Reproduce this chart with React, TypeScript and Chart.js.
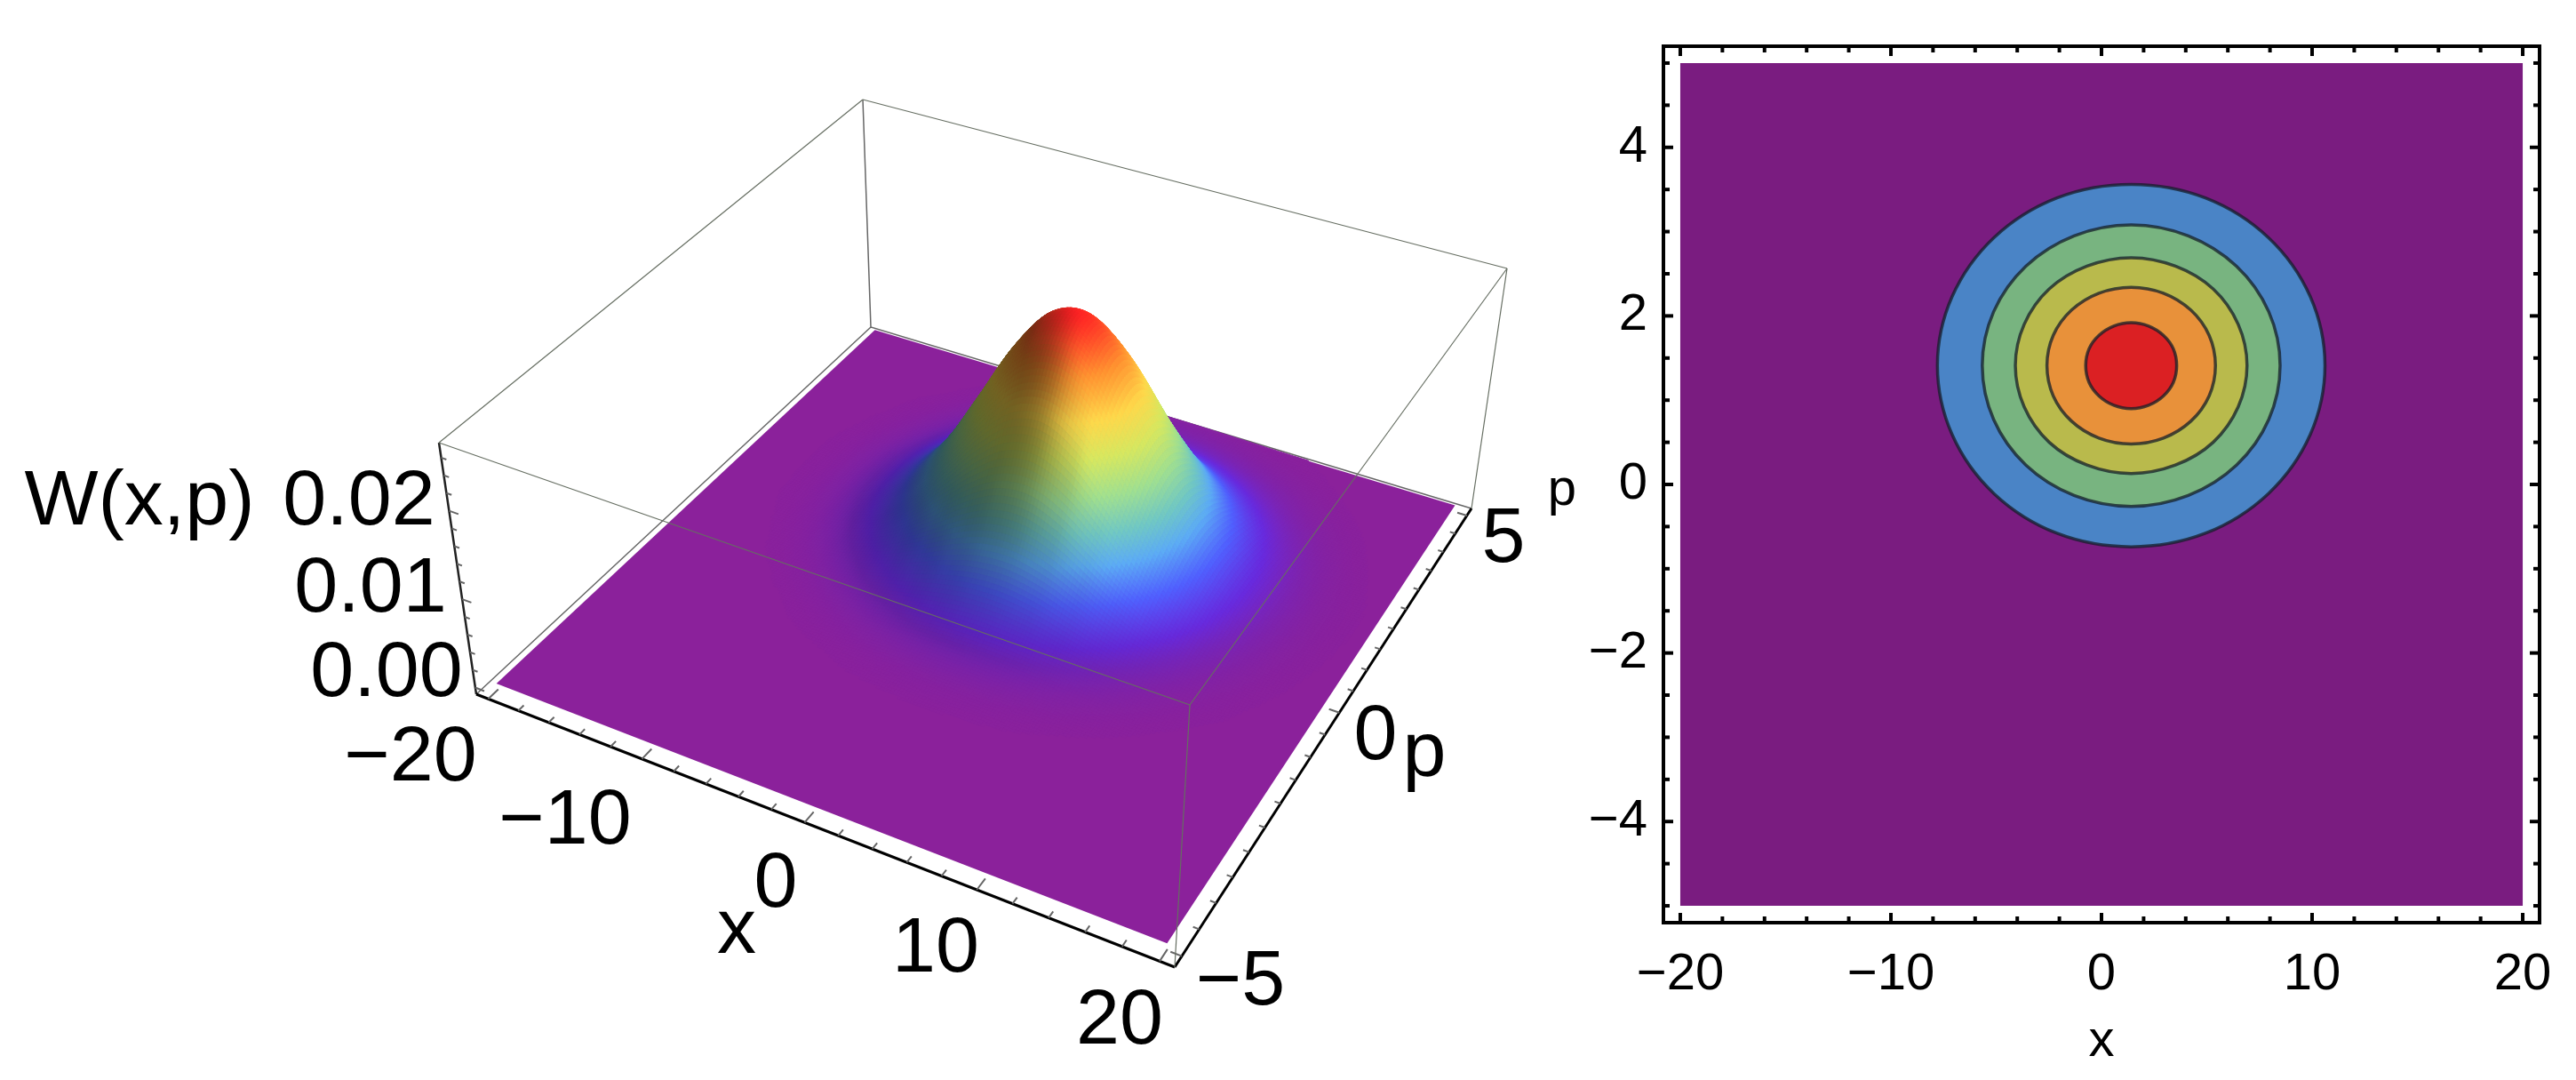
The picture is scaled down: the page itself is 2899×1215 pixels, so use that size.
import React, { useEffect, useRef } from 'react';
import { Chart, registerables } from 'chart.js';

Chart.register(...registerables);

const PAGE_W = 2899;
const PAGE_H = 1215;
const FONT = '"Liberation Sans", Arial, sans-serif';

// ---- values ----

const xGrid = [-20, -18, -16, -14, -12, -10, -8, -6, -4, -2, 0, 2, 4, 6, 8, 10, 12, 14, 16, 18, 20];
const pGrid = [-5, -4.5, -4, -3.5, -3, -2.5, -2, -1.5, -1, -0.5, 0, 0.5, 1, 1.5, 2, 2.5, 3, 3.5, 4, 4.5, 5];

// W(x,p) in units of 1e-4, one row per pGrid entry, one column per xGrid entry
const wRows = [
	[0, 0, 0, 0, 0, 0, 0, 0, 0, 0, 0, 0, 0, 0, 0, 0, 0, 0, 0, 0, 0],
	[0, 0, 0, 0, 0, 0, 0, 0, 0, 0, 0, 0, 0, 0, 0, 0, 0, 0, 0, 0, 0],
	[0, 0, 0, 0, 0, 0, 0, 0, 0, 0, 0, 0, 0, 0, 0, 0, 0, 0, 0, 0, 0],
	[0, 0, 0, 0, 0, 0, 0, 0, 0, 0, 0, 0, 0, 0, 0, 0, 0, 0, 0, 0, 0],
	[0, 0, 0, 0, 0, 0, 0, 0.1, 0.1, 0.2, 0.2, 0.2, 0.2, 0.1, 0.1, 0, 0, 0, 0, 0, 0],
	[0, 0, 0, 0, 0, 0.1, 0.2, 0.3, 0.6, 0.8, 1, 1, 0.9, 0.7, 0.4, 0.2, 0.1, 0, 0, 0, 0],
	[0, 0, 0, 0, 0.1, 0.3, 0.7, 1.3, 2.1, 3, 3.7, 3.8, 3.4, 2.5, 1.6, 0.9, 0.4, 0.2, 0.1, 0, 0],
	[0, 0, 0, 0.1, 0.3, 0.9, 2.1, 4.1, 6.8, 9.7, 11.8, 12.2, 10.7, 8, 5.1, 2.8, 1.3, 0.5, 0.2, 0, 0],
	[0, 0, 0.1, 0.3, 0.9, 2.4, 5.5, 10.8, 18, 25.6, 31.1, 32.1, 28.3, 21.2, 13.6, 7.4, 3.4, 1.4, 0.5, 0.1, 0],
	[0, 0, 0.2, 0.6, 2, 5.3, 12.2, 23.9, 39.8, 56.7, 68.7, 71, 62.5, 46.9, 30, 16.4, 7.6, 3, 1, 0.3, 0.1],
	[0, 0.1, 0.3, 1.1, 3.6, 9.7, 22.3, 43.9, 73.2, 104, 126.3, 130.5, 114.8, 86.2, 55.2, 30.1, 13.9, 5.5, 1.8, 0.5, 0.1],
	[0, 0.1, 0.5, 1.7, 5.5, 14.9, 34.1, 67.1, 112, 159.2, 193.2, 199.6, 175.7, 131.8, 84.4, 46, 21.3, 8.4, 2.8, 0.8, 0.2],
	[0, 0.1, 0.6, 2.2, 7, 18.9, 43.4, 85.4, 142.4, 202.5, 245.7, 253.9, 223.4, 167.7, 107.3, 58.6, 27.1, 10.7, 3.6, 1, 0.3],
	[0, 0.1, 0.6, 2.3, 7.4, 20, 46.1, 90.5, 151, 214.8, 260.6, 269.3, 237, 177.9, 113.9, 62.1, 28.7, 11.4, 3.8, 1.1, 0.3],
	[0, 0.1, 0.6, 2.1, 6.6, 17.7, 40.7, 79.9, 133.3, 189.6, 230, 237.7, 209.2, 157, 100.5, 54.8, 25.3, 10, 3.3, 1, 0.3],
	[0, 0.1, 0.4, 1.5, 4.8, 13, 29.9, 58.7, 98, 139.4, 169.1, 174.8, 153.8, 115.4, 73.9, 40.3, 18.6, 7.4, 2.5, 0.7, 0.2],
	[0, 0.1, 0.3, 0.9, 3, 8, 18.3, 36, 60.1, 85.5, 103.8, 107.2, 94.4, 70.8, 45.3, 24.7, 11.4, 4.5, 1.5, 0.4, 0.1],
	[0, 0, 0.1, 0.5, 1.5, 4.1, 9.3, 18.3, 30.6, 43.5, 52.8, 54.6, 48, 36, 23.1, 12.6, 5.8, 2.3, 0.8, 0.2, 0.1],
	[0, 0, 0.1, 0.2, 0.6, 1.7, 4, 7.8, 13, 18.5, 22.5, 23.2, 20.4, 15.3, 9.8, 5.4, 2.5, 1, 0.3, 0.1, 0],
	[0, 0, 0, 0.1, 0.2, 0.6, 1.4, 2.7, 4.5, 6.5, 7.8, 8.1, 7.1, 5.4, 3.4, 1.9, 0.9, 0.3, 0.1, 0, 0],
	[0, 0, 0, 0, 0.1, 0.2, 0.4, 0.8, 1.3, 1.9, 2.3, 2.4, 2.1, 1.6, 1, 0.6, 0.3, 0.1, 0, 0, 0],
];
const wPeak = 272;

const boxX = [-20.8, 20.8];
const boxP = [-5.2, 5.2];
const boxW = [-0.00075, 0.0277];

const ticks3dX = [-20, -18, -16, -14, -12, -10, -8, -6, -4, -2, 0, 2, 4, 6, 8, 10, 12, 14, 16, 18, 20];
const ticks3dP = [-5, -4.5, -4, -3.5, -3, -2.5, -2, -1.5, -1, -0.5, 0, 0.5, 1, 1.5, 2, 2.5, 3, 3.5, 4, 4.5, 5];
const ticks3dW = [0, 0.002, 0.004, 0.006, 0.008, 0.01, 0.012, 0.014, 0.016, 0.018, 0.02, 0.022, 0.024, 0.026];

// contour plot: one closed curve per level, outermost first
const contourX = [
	[10.61, 9.91, 7.92, 4.93, 1.41, -2.11, -5.1, -7.09, -7.79, -7.09, -5.1, -2.11, 1.41, 4.93, 7.92, 9.91],
	[8.48, 7.94, 6.41, 4.12, 1.41, -1.3, -3.59, -5.12, -5.66, -5.12, -3.59, -1.3, 1.41, 4.12, 6.41, 7.94],
	[6.91, 6.49, 5.3, 3.51, 1.41, -0.69, -2.48, -3.67, -4.09, -3.67, -2.48, -0.69, 1.41, 3.51, 5.3, 6.49],
	[5.41, 5.11, 4.24, 2.94, 1.41, -0.12, -1.42, -2.29, -2.59, -2.29, -1.42, -0.12, 1.41, 2.94, 4.24, 5.11],
	[3.57, 3.41, 2.94, 2.24, 1.41, 0.58, -0.12, -0.59, -0.75, -0.59, -0.12, 0.58, 1.41, 2.24, 2.94, 3.41],
];
const contourP = [
	[1.41, 2.23, 2.93, 3.4, 3.56, 3.4, 2.93, 2.23, 1.41, 0.59, -0.11, -0.58, -0.74, -0.58, -0.11, 0.59],
	[1.41, 2.05, 2.59, 2.95, 3.08, 2.95, 2.59, 2.05, 1.41, 0.77, 0.23, -0.13, -0.26, -0.13, 0.23, 0.77],
	[1.41, 1.9, 2.32, 2.59, 2.69, 2.59, 2.32, 1.9, 1.41, 0.92, 0.5, 0.23, 0.13, 0.23, 0.5, 0.92],
	[1.41, 1.77, 2.07, 2.27, 2.34, 2.27, 2.07, 1.77, 1.41, 1.05, 0.75, 0.55, 0.48, 0.55, 0.75, 1.05],
	[1.41, 1.61, 1.77, 1.88, 1.92, 1.88, 1.77, 1.61, 1.41, 1.21, 1.05, 0.94, 0.9, 0.94, 1.05, 1.21],
];
const contourColors = ['#4a84c6', '#78b480', '#b9ba4c', '#e8913a', '#db2023'];
const planeX = [-20, 20, 20, -20, -20];
const planeP = [-5, -5, 5, 5, -5];

const xTickLabels = [-20, -10, 0, 10, 20];
const pTickLabels = [-4, -2, 0, 2, 4];
const xMinorTicks = [-18, -16, -14, -12, -8, -6, -4, -2, 2, 4, 6, 8, 12, 14, 16, 18];
const pMinorTicks = [-5, -4.5, -3.5, -3, -2.5, -1.5, -1, -0.5, 0.5, 1, 1.5, 2.5, 3, 3.5, 4.5, 5];

// ---- 3D view ----

type Pt = { x: number; y: number };

// unit square to quad, so the floor and lid of the box keep their perspective
const squareToQuad = (q: number[][]) => {
	const [[x0, y0], [x1, y1], [x2, y2], [x3, y3]] = q;
	const dx1 = x1 - x2;
	const dx2 = x3 - x2;
	const sx = x0 - x1 + x2 - x3;
	const dy1 = y1 - y2;
	const dy2 = y3 - y2;
	const sy = y0 - y1 + y2 - y3;
	const den = dx1 * dy2 - dx2 * dy1;
	const g = (sx * dy2 - dx2 * sy) / den;
	const h = (dx1 * sy - sx * dy1) / den;
	const a = x1 - x0 + g * x1;
	const b = x3 - x0 + h * x3;
	const d = y1 - y0 + g * y1;
	const e = y3 - y0 + h * y3;
	return (u: number, v: number): Pt => {
		const w = g * u + h * v + 1;
		return { x: (a * u + b * v + x0) / w, y: (d * u + e * v + y0) / w };
	};
};

const floorView = squareToQuad([[536, 781], [1322, 1088], [1656, 572], [980, 368]]);
const lidView = squareToQuad([[494, 498], [1339, 793], [1696, 302], [971, 112]]);

const project = (x: number, p: number, w: number): Pt => {
	const u = (x - boxX[0]) / (boxX[1] - boxX[0]);
	const v = (p - boxP[0]) / (boxP[1] - boxP[0]);
	const c = (w - boxW[0]) / (boxW[1] - boxW[0]);
	const f = floorView(u, v);
	const l = lidView(u, v);
	return { x: f.x + (l.x - f.x) * c, y: f.y + (l.y - f.y) * c };
};

const surfaceStops: [number, number[]][] = [
	[0, [139, 33, 155]],
	[0.07, [104, 42, 222]],
	[0.16, [80, 96, 255]],
	[0.26, [92, 172, 245]],
	[0.35, [112, 200, 196]],
	[0.46, [160, 224, 144]],
	[0.58, [214, 232, 96]],
	[0.7, [255, 216, 74]],
	[0.84, [255, 146, 48]],
	[1, [255, 32, 36]],
];

const surfaceColor = (t: number, shade: number) => {
	let i = 0;
	while (i < surfaceStops.length - 2 && t > surfaceStops[i + 1][0]) i++;
	const [t0, c0] = surfaceStops[i];
	const [t1, c1] = surfaceStops[i + 1];
	const f = Math.min(1, Math.max(0, (t - t0) / (t1 - t0)));
	const ch = (k: number) => Math.round((c0[k] + (c1[k] - c0[k]) * f) * shade);
	return `rgb(${ch(0)},${ch(1)},${ch(2)})`;
};

const catmull = (a: number, b: number, c: number, d: number, t: number) =>
	0.5 * (2 * b + (c - a) * t + (2 * a - 5 * b + 4 * c - d) * t * t + (3 * b - a - 3 * c + d) * t * t * t);

// smooth the drawn mesh between the table's nodes, the table itself stays as read
const SUB = 10;
const refine = (values: number[]) => {
	const out: number[] = [];
	const last = values.length - 1;
	for (let i = 0; i < last; i++) {
		const a = values[Math.max(0, i - 1)];
		const d = values[Math.min(last, i + 2)];
		for (let s = 0; s < SUB; s++) out.push(catmull(a, values[i], values[i + 1], d, s / SUB));
	}
	out.push(values[last]);
	return out;
};

const surfacePlugin = {
	id: 'surface',
	afterDatasetDraw(chart: any, args: any) {
		if (args.index !== 0) return;
		const { ctx, scales } = chart;
		const toPx = (pt: Pt) => [scales.x.getPixelForValue(pt.x), scales.y.getPixelForValue(pt.y)];

		const byRow = wRows.map(refine);
		const cols = byRow[0].map((_, i) => refine(byRow.map((r) => r[i])).map((v) => Math.max(0, v)));
		const nx = cols.length;
		const np = cols[0].length;
		const fineX = refine(xGrid);
		const fineP = refine(pGrid);

		ctx.save();
		ctx.fillStyle = surfaceColor(0, 1);
		ctx.beginPath();
		[[xGrid[0], pGrid[0]], [xGrid[20], pGrid[0]], [xGrid[20], pGrid[20]], [xGrid[0], pGrid[20]]].forEach(([x, p], i) => {
			const [a, b] = toPx(project(x, p, 0));
			if (i === 0) ctx.moveTo(a, b);
			else ctx.lineTo(a, b);
		});
		ctx.closePath();
		ctx.fill();

		ctx.lineWidth = 1;
		ctx.lineJoin = 'round';
		const at = (i: number, j: number) => toPx(project(fineX[i], fineP[j], cols[i][j] * 1e-4));
		for (let j = np - 2; j >= 0; j--) {
			for (let i = 0; i < nx - 1; i++) {
				const h = (cols[i][j] + cols[i + 1][j] + cols[i][j + 1] + cols[i + 1][j + 1]) / 4;
				const t = h / wPeak;
				if (t < 0.002) continue;
				// slope seen from the left of the picture darkens the face, the flat floor stays unshaded
				const dx = ((cols[i + 1][j] + cols[i + 1][j + 1] - cols[i][j] - cols[i][j + 1]) / 2 / wPeak) * (5 / (fineX[i + 1] - fineX[i]));
				const dp = ((cols[i][j + 1] + cols[i + 1][j + 1] - cols[i][j] - cols[i + 1][j]) / 2 / wPeak) * (1.17 / (fineP[j + 1] - fineP[j]));
				const k = Math.min(1, Math.max(0, (dx + 0.6 * dp + 0.15) / 0.7));
				const shade = 1 - 0.55 * k * k * (3 - 2 * k) * Math.min(1, t / 0.04);
				const col = surfaceColor(t, shade);
				const q = [at(i, j), at(i + 1, j), at(i + 1, j + 1), at(i, j + 1)];
				ctx.fillStyle = col;
				ctx.strokeStyle = col;
				ctx.beginPath();
				ctx.moveTo(q[0][0], q[0][1]);
				ctx.lineTo(q[1][0], q[1][1]);
				ctx.lineTo(q[2][0], q[2][1]);
				ctx.lineTo(q[3][0], q[3][1]);
				ctx.closePath();
				ctx.fill();
				ctx.stroke();
			}
		}
		ctx.restore();
	},
};

const labels3d = [
	{ text: 'W(x,p)', x: 157, y: 590 },
	{ text: '0.02', x: 404, y: 590 },
	{ text: '0.01', x: 417, y: 688 },
	{ text: '0.00', x: 435, y: 783 },
	{ text: '\u221220', x: 462, y: 878 },
	{ text: '\u221210', x: 636, y: 949 },
	{ text: '0', x: 873, y: 1020 },
	{ text: 'x', x: 829, y: 1072 },
	{ text: '10', x: 1053, y: 1093 },
	{ text: '20', x: 1260, y: 1174 },
	{ text: '\u22125', x: 1396, y: 1130 },
	{ text: '0', x: 1548, y: 854 },
	{ text: 'p', x: 1603, y: 873 },
	{ text: '5', x: 1692, y: 632 },
];

const labels3dPlugin = {
	id: 'labels3d',
	afterDraw(chart: any) {
		const { ctx } = chart;
		ctx.save();
		ctx.fillStyle = '#000';
		ctx.font = `88px ${FONT}`;
		ctx.textAlign = 'center';
		ctx.textBaseline = 'alphabetic';
		labels3d.forEach((l) => ctx.fillText(l.text, l.x, l.y));
		ctx.restore();
	},
};

const edge = (a: number[], b: number[], color: string, width: number, order = 1) => ({
	data: [project(a[0], a[1], a[2]), project(b[0], b[1], b[2])],
	borderColor: color,
	borderWidth: width,
	showLine: true,
	pointRadius: 0,
	order,
});

const tickMarks = (ticks: number[], isMajor: (v: number) => boolean, from: (v: number) => number[], dir: number[]) => {
	const pts: Pt[] = [];
	ticks.forEach((v) => {
		const s = from(v);
		const k = isMajor(v) ? 1 : 0.55;
		pts.push(project(s[0], s[1], s[2]));
		pts.push(project(s[0] + dir[0] * k, s[1] + dir[1] * k, s[2] + dir[2] * k));
		pts.push({ x: NaN, y: NaN });
	});
	return { data: pts, borderColor: '#666', borderWidth: 2, showLine: true, pointRadius: 0, order: 1 };
};

const surfaceConfig = () => {
	const [x0, x1] = boxX;
	const [p0, p1] = boxP;
	const [w0, w1] = boxW;
	const thin = '#666e62';
	const datasets = [
		{
			data: [project(x0, p0, w0), project(x0, p1, w0), project(x0, p1, w1), project(x0, p1, w0), project(x1, p1, w0)],
			borderColor: '#666',
			borderWidth: 1.5,
			showLine: true,
			pointRadius: 0,
			order: 2,
		},
		edge([x0, p0, w1], [x1, p0, w1], thin, 1.2),
		edge([x1, p0, w1], [x1, p1, w1], thin, 1.2),
		edge([x1, p1, w1], [x0, p1, w1], thin, 1.2),
		edge([x0, p1, w1], [x0, p0, w1], thin, 1.2),
		edge([x1, p0, w0], [x1, p0, w1], thin, 1.2),
		edge([x1, p1, w0], [x1, p1, w1], thin, 1.2),
		tickMarks(ticks3dX, (v) => v % 10 === 0, (v) => [v, p0, w0], [0, 0.22, 0]),
		tickMarks(ticks3dP, (v) => Number.isInteger(v / 5), (v) => [x1, v, w0], [-0.6, 0, 0]),
		tickMarks(ticks3dW, (v) => Math.abs(v / 0.01 - Math.round(v / 0.01)) < 1e-6, (v) => [x0, p0, v], [0.6, 0, 0]),
		edge([x0, p0, w0], [x1, p0, w0], '#000', 3),
		edge([x1, p0, w0], [x1, p1, w0], '#000', 3),
		edge([x0, p0, w0], [x0, p0, w1], '#222', 2.5),
	];
	return {
		type: 'scatter',
		data: { datasets },
		options: {
			animation: false,
			responsive: false,
			devicePixelRatio: 1,
			events: [],
			layout: { padding: 0 },
			plugins: { legend: { display: false }, tooltip: { enabled: false } },
			scales: {
				x: { type: 'linear', min: 0, max: PANEL_A_W, display: false },
				y: { type: 'linear', min: 0, max: PAGE_H, reverse: true, display: false },
			},
		},
		plugins: [surfacePlugin, labels3dPlugin],
	} as any;
};

// ---- contour plot ----

const PANEL_A_W = 1720;
const PANEL_B_W = PAGE_W - PANEL_A_W;

// close the contour lines so the spline has no corner where a curve ends
const closeCurvesPlugin = {
	id: 'closeCurves',
	afterDatasetUpdate(chart: any, args: any) {
		if (!chart.data.datasets[args.index].closed) return;
		const line = args.meta.dataset;
		line._loop = true;
		line._fullLoop = true;
		line.points = line._points;
	},
};

const framePlugin = {
	id: 'frame',
	afterDraw(chart: any) {
		const { ctx, chartArea: a, scales } = chart;
		ctx.save();
		ctx.strokeStyle = '#000';
		ctx.fillStyle = '#000';
		ctx.lineWidth = 4;
		ctx.strokeRect(a.left, a.top, a.right - a.left, a.bottom - a.top);
		ctx.lineWidth = 4;
		const mark = (x0: number, y0: number, x1: number, y1: number) => {
			ctx.beginPath();
			ctx.moveTo(x0, y0);
			ctx.lineTo(x1, y1);
			ctx.stroke();
		};
		const xMarks = (vals: number[], len: number) =>
			vals.forEach((v) => {
				const px = scales.x.getPixelForValue(v);
				mark(px, a.top, px, a.top + len);
				mark(px, a.bottom, px, a.bottom - len);
			});
		const pMarks = (vals: number[], len: number) =>
			vals.forEach((v) => {
				const py = scales.y.getPixelForValue(v);
				mark(a.left, py, a.left + len, py);
				mark(a.right, py, a.right - len, py);
			});
		xMarks(xMinorTicks, 7);
		xMarks(xTickLabels, 11);
		pMarks(pMinorTicks, 7);
		pMarks(pTickLabels, 11);
		ctx.font = `58px ${FONT}`;
		ctx.textAlign = 'center';
		ctx.textBaseline = 'alphabetic';
		ctx.fillText('p', 1758 - (PAGE_W - PANEL_B_W), 568);
		ctx.restore();
	},
};

const contourConfig = () => {
	const curve = (xs: number[], ps: number[]) => xs.map((x, i) => ({ x, y: ps[i] }));
	const datasets: any[] = [
		{
			data: curve(planeX, planeP),
			backgroundColor: '#7a1c80',
			borderWidth: 0,
			fill: 'shape',
			showLine: true,
			pointRadius: 0,
			order: 10,
		},
		...contourX.map((xs, i) => ({
			data: curve(xs, contourP[i]),
			closed: true,
			backgroundColor: contourColors[i],
			borderColor: 'rgba(20,30,40,0.75)',
			borderWidth: 3.5,
			fill: 'shape',
			showLine: true,
			tension: 0.34,
			pointRadius: 0,
			order: 9 - i,
		})),
	];
	const tickFont = { family: FONT, size: 58 };
	const fmt = (v: any) => String(v).replace('-', '\u2212');
	return {
		type: 'scatter',
		data: { datasets },
		options: {
			animation: false,
			responsive: false,
			devicePixelRatio: 1,
			events: [],
			layout: { padding: { top: 52, right: 41 } },
			plugins: { legend: { display: false }, tooltip: { enabled: false } },
			scales: {
				x: {
					type: 'linear',
					min: -20.8,
					max: 20.8,
					grid: { display: false },
					border: { display: false },
					afterBuildTicks: (s: any) => {
						s.ticks = xTickLabels.map((value) => ({ value }));
					},
					afterFit: (s: any) => {
						s.height = PAGE_H - 1038;
						s.paddingLeft = 0;
						s.paddingRight = 0;
					},
					ticks: { font: tickFont, color: '#000', padding: 16, maxRotation: 0, autoSkip: false, callback: fmt },
					title: { display: true, text: 'x', font: tickFont, color: '#000', padding: { top: 0, bottom: 8 } },
				},
				y: {
					type: 'linear',
					min: -5.2,
					max: 5.2,
					grid: { display: false },
					border: { display: false },
					afterBuildTicks: (s: any) => {
						s.ticks = pTickLabels.map((value) => ({ value }));
					},
					afterFit: (s: any) => {
						s.width = 1872 - (PAGE_W - PANEL_B_W);
						s.paddingTop = 0;
						s.paddingBottom = 0;
					},
					ticks: { font: tickFont, color: '#000', padding: 10, autoSkip: false, callback: fmt },
				},
			},
		},
		plugins: [closeCurvesPlugin, framePlugin],
	} as any;
};

const App: React.FC = () => {
	const surfaceRef = useRef<HTMLCanvasElement | null>(null);
	const contourRef = useRef<HTMLCanvasElement | null>(null);

	useEffect(() => {
		const charts: Chart[] = [];
		if (surfaceRef.current) charts.push(new Chart(surfaceRef.current, surfaceConfig()));
		if (contourRef.current) charts.push(new Chart(contourRef.current, contourConfig()));
		return () => charts.forEach((c) => c.destroy());
	}, []);

	return (
		<div style={{ position: 'absolute', left: 0, top: 0, width: PAGE_W, height: PAGE_H, background: '#fff', overflow: 'hidden' }}>
			<canvas ref={surfaceRef} width={PANEL_A_W} height={PAGE_H} style={{ position: 'absolute', left: 0, top: 0 }} />
			<canvas ref={contourRef} width={PANEL_B_W} height={PAGE_H} style={{ position: 'absolute', left: PANEL_A_W, top: 0 }} />
		</div>
	);
};

export default App;
